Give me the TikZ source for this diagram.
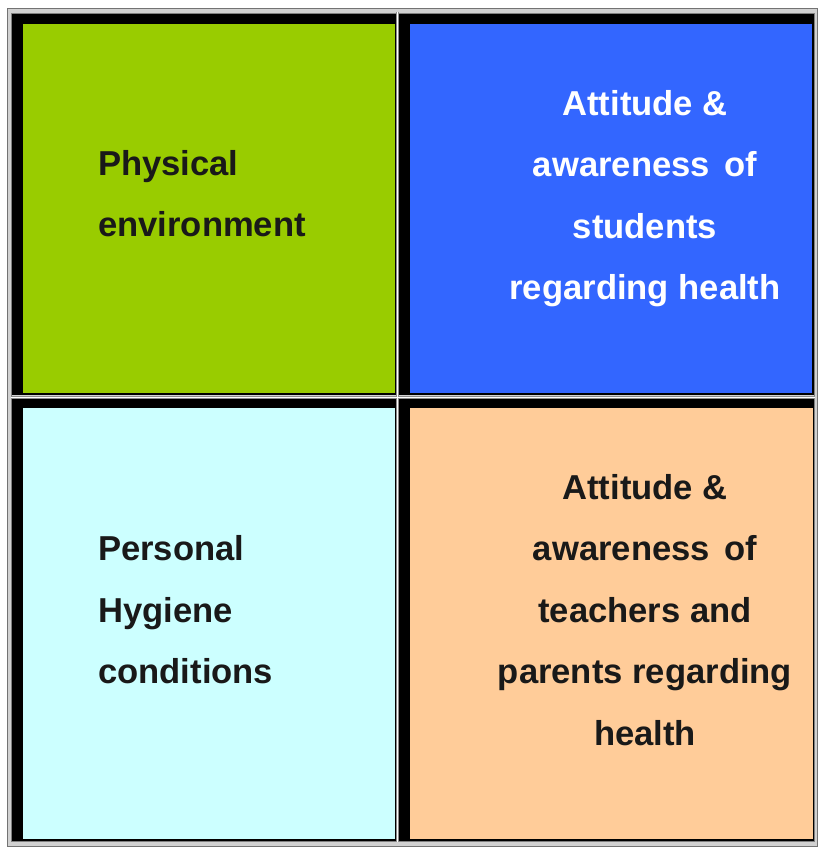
\documentclass[tikz,border=0pt]{standalone}
\usepackage{fontspec}
\setmainfont{Liberation Sans}
\definecolor{cellgreen}{HTML}{99CC00}
\definecolor{cellblue}{HTML}{3366FF}
\definecolor{cellcyan}{HTML}{CCFFFF}
\definecolor{cellpeach}{HTML}{FFCC99}
\newcommand{\awr}{awareness\hspace{14.5pt}of}
\begin{document}
\begin{tikzpicture}[x=1pt,y=-1pt,
  celltext/.style={inner sep=0pt, anchor=base, font=\fontsize{34.6}{61.5}\selectfont\bfseries},
  frameline/.style={draw=black!55, line width=1.2pt},
  sepline/.style={draw=white, line width=1pt}]
\useasboundingbox (0,0) rectangle (819,848);
\fill[white] (0,0) rectangle (819,848);
% table frame
\filldraw[fill=black!18, frameline] (7.5,8.5) rectangle (817.5,846.5);
\draw[black!50, line width=0.8pt] (11.5,13) rectangle (814,841.5);
% cells: thick dark top/left border, thin dark bottom/right edge
\fill[black] (12,14) rectangle (396,395);
\fill[black] (399,14) rectangle (813.5,395);
\fill[black] (12,399) rectangle (396,840.5);
\fill[black] (399,399) rectangle (813.5,840.5);
\fill[cellgreen] (23,24) rectangle (394.5,392.5);
\fill[cellblue]  (410,24) rectangle (812,392.5);
\fill[cellcyan]  (23,408) rectangle (394.5,839);
\fill[cellpeach] (410,408) rectangle (812.5,839);
% separators between the cells
\draw[black!45, line width=3pt] (397.5,12) -- (397.5,842);
\draw[black!45, line width=3pt] (11,397) -- (815,397);
\draw[sepline] (397.5,12) -- (397.5,842);
\draw[sepline] (11,397) -- (815,397);
% cell texts (anchored at the baseline of their last line)
\node[celltext, anchor=base west, align=left, text=black!90] (phys) at (98,236.5)
  {Physical\\environment};
\node[celltext, align=center, text=white] (stud) at (645,299.5)
  {Attitude \&\\\awr\\students\\regarding health};
\node[celltext, anchor=base west, align=left, text=black!90] (hyg) at (98,683.5)
  {Personal\\Hygiene\\conditions};
\node[celltext, align=center, text=black!90] (teach) at (645,745)
  {Attitude \&\\\awr\\teachers and\\parents regarding\\health};
\end{tikzpicture}
\end{document}
